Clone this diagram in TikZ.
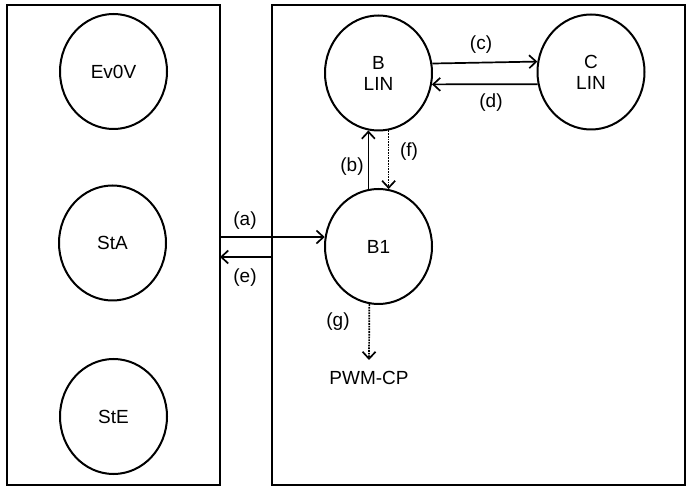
\documentclass[tikz,border=0pt]{standalone}
\usepackage{fontspec}
\setmainfont{Liberation Sans}
\usetikzlibrary{arrows.meta,shapes.geometric}
\begin{document}
\begin{tikzpicture}[x=1pt,y=-1pt,
  state/.style={ellipse,draw,line width=2pt,minimum width=107pt,minimum height=115pt,inner sep=0pt,align=center,font=\fontsize{19}{21}\selectfont},
  frame/.style={draw,line width=2pt},
  conn/.style={line width=1.7pt,-{Straight Barb[length=7pt,width=13pt,line width=1.7pt]}},
  dconn/.style={conn,densely dotted},
  lbl/.style={font=\fontsize{19}{21}\selectfont}]
\useasboundingbox (0,0) rectangle (689,494);
\draw[frame] (7,5) rectangle (220,485);
\draw[frame] (272,5) rectangle (685,485);
\node[state] (ev) at (113.5,71.5) {Ev0V};
\node[state] (sta) at (112.5,243) {StA};
\node[state] (ste) at (113.5,416.5) {StE};
\node[state] (b) at (378.5,73) {B\\LIN};
\node[state] (c) at (591,72) {C\\LIN};
\node[state] (b1) at (378.5,246.5) {B1};
\node[lbl] (pwm) at (369,378) {PWM-CP};
\coordinate (aL) at (220,237);
\coordinate (eR) at (272,257);
\coordinate (eL) at (220,257);
\coordinate (gE) at (369,360);
\draw[conn] (aL) -- (b1.170.5);
\draw[conn] (eR) -- (eL);
\node[lbl] at (245,221) {(a)};
\node[lbl] at (245,278) {(e)};
\draw[conn] (b.10.5) -- (c.169.5);
\draw[conn] (c.-167.4) -- (b.-12.6);
\node[lbl] at (481,45) {(c)};
\node[lbl] at (491,103) {(d)};
\draw[conn] (b1.100) -- (b.-100);
\draw[dconn] (b.-80) -- (b1.80);
\node[lbl] at (352,167) {(b)};
\node[lbl] at (409,152) {(f)};
\draw[dconn] (b1.-99) -- (gE);
\node[lbl] at (338,322) {(g)};
\end{tikzpicture}
\end{document}
